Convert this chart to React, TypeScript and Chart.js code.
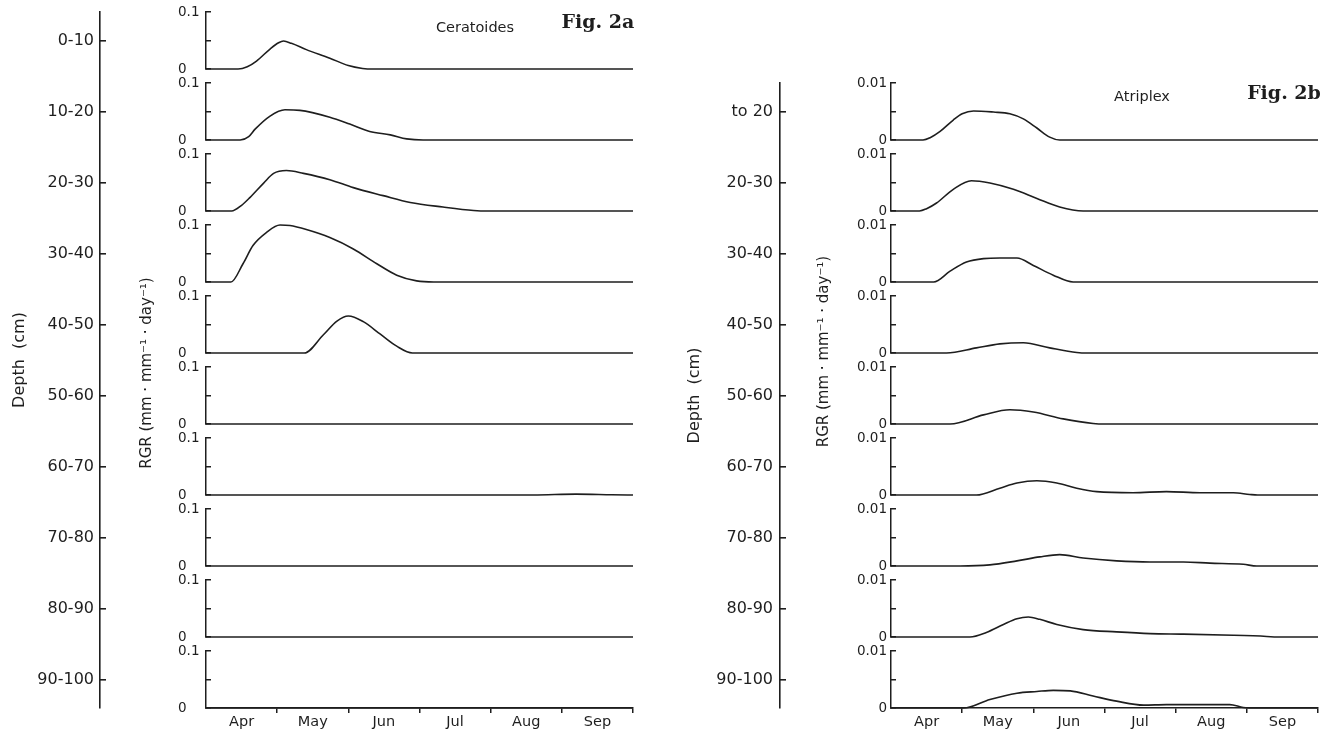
import React, { useEffect, useRef } from 'react';
import { Chart, registerables } from 'chart.js';

Chart.register(...registerables);

// ---------- data ----------
const months = ['Apr', 'May', 'Jun', 'Jul', 'Aug', 'Sep'];
// month boundaries at integers, month label positions at .5
const monthTickValues = [0, 0.5, 1, 1.5, 2, 2.5, 3, 3.5, 4, 4.5, 5, 5.5, 6];

const ceratoidesDepthLabels = ['0-10', '10-20', '20-30', '30-40', '40-50', '50-60', '60-70', '70-80', '80-90', '90-100'];
const ceratoidesDepthMids = [5, 15, 25, 35, 45, 55, 65, 75, 85, 95];
const atriplexDepthLabels = ['to 20', '20-30', '30-40', '40-50', '50-60', '60-70', '70-80', '80-90', '90-100'];
const atriplexDepthMids = [15, 25, 35, 45, 55, 65, 75, 85, 95];

const ceratoidesTickValues = [0, 0.05, 0.1];
const ceratoidesTickLabels = ['0', '', '0.1'];
const atriplexTickValues = [0, 0.005, 0.01];
const atriplexTickLabels = ['0', '', '0.01'];

// [month (0 = 1 Apr), RGR]
const cer0_10 = [[0, 0], [0.45, 0], [0.58, 0.004], [0.71, 0.014], [0.9, 0.035], [1.02, 0.046], [1.09, 0.049], [1.2, 0.045], [1.41, 0.034], [1.74, 0.019], [2.0, 0.006], [2.2, 0.001], [2.35, 0], [6, 0]];
const cer10_20 = [[0, 0], [0.48, 0], [0.6, 0.006], [0.69, 0.019], [0.9, 0.042], [1.11, 0.053], [1.32, 0.052], [1.74, 0.04], [2.02, 0.028], [2.3, 0.015], [2.59, 0.009], [2.82, 0.002], [3.05, 0], [6, 0]];
const cer20_30 = [[0, 0], [0.36, 0], [0.5, 0.01], [0.62, 0.024], [0.81, 0.049], [0.95, 0.066], [1.13, 0.071], [1.37, 0.066], [1.74, 0.055], [2.07, 0.041], [2.49, 0.027], [2.87, 0.015], [3.33, 0.007], [3.76, 0.001], [3.95, 0], [6, 0]];
const cer30_40 = [[0, 0], [0.35, 0], [0.52, 0.032], [0.66, 0.064], [0.85, 0.087], [1.04, 0.1], [1.18, 0.099], [1.41, 0.092], [1.74, 0.078], [2.07, 0.058], [2.4, 0.032], [2.68, 0.012], [2.96, 0.002], [3.2, 0], [6, 0]];
const cer40_50 = [[0, 0], [1.38, 0], [1.65, 0.032], [1.84, 0.056], [2.0, 0.065], [2.21, 0.055], [2.45, 0.033], [2.68, 0.012], [2.9, 0], [6, 0]];
const cer50_60 = [[0, 0], [6, 0]];
const cer60_70 = [[0, 0], [4.6, 0], [5.2, 0.0015], [5.7, 0.0005], [6, 0]];
const cer70_80 = [[0, 0], [6, 0]];
const cer80_90 = [[0, 0], [6, 0]];
const cer90_100 = [[0, 0], [6, 0]];

const atr0_20 = [[0, 0], [0.45, 0], [0.55, 0.0004], [0.69, 0.0015], [0.875, 0.0035], [1.0, 0.0046], [1.16, 0.0051], [1.44, 0.0049], [1.67, 0.0046], [1.86, 0.0037], [2.05, 0.0021], [2.23, 0.0005], [2.37, 0], [6, 0]];
const atr20_30 = [[0, 0], [0.4, 0], [0.5, 0.0004], [0.64, 0.0014], [0.875, 0.0038], [1.13, 0.0053], [1.39, 0.0049], [1.72, 0.0038], [2.05, 0.0022], [2.37, 0.0007], [2.7, 0], [6, 0]];
const atr30_40 = [[0, 0], [0.6, 0], [0.83, 0.0019], [1.06, 0.0035], [1.3, 0.0041], [1.53, 0.0042], [1.77, 0.0042], [2.0, 0.0029], [2.28, 0.0012], [2.56, 0], [6, 0]];
const atr40_50 = [[0, 0], [0.78, 0], [1.2, 0.0009], [1.53, 0.0016], [1.86, 0.0018], [2.23, 0.0009], [2.61, 0.0001], [2.75, 0], [6, 0]];
const atr50_60 = [[0, 0], [0.83, 0], [1.3, 0.0016], [1.67, 0.0025], [2.0, 0.0021], [2.42, 0.0009], [2.84, 0.0001], [3.0, 0], [6, 0]];
const atr60_70 = [[0, 0], [1.2, 0], [1.53, 0.0012], [1.77, 0.0021], [2.05, 0.0025], [2.33, 0.0021], [2.61, 0.0012], [2.89, 0.0006], [3.4, 0.0004], [3.87, 0.0006], [4.34, 0.0004], [4.81, 0.0004], [5.04, 0.0001], [5.15, 0], [6, 0]];
const atr70_80 = [[0, 0], [0.97, 0], [1.39, 0.0002], [1.77, 0.0009], [2.09, 0.0016], [2.37, 0.002], [2.7, 0.0014], [3.17, 0.0009], [3.64, 0.0007], [4.11, 0.0007], [4.48, 0.0005], [4.95, 0.0003], [5.14, 0], [6, 0]];
const atr80_90 = [[0, 0], [1.11, 0], [1.34, 0.0008], [1.58, 0.0022], [1.77, 0.0032], [1.93, 0.0035], [2.09, 0.0031], [2.33, 0.0022], [2.7, 0.0013], [3.17, 0.0009], [3.64, 0.0006], [4.11, 0.0005], [4.81, 0.0003], [5.28, 0.0001], [5.42, 0], [6, 0]];
const atr90_100 = [[0, 0], [1.02, 0], [1.39, 0.0015], [1.77, 0.0026], [2.05, 0.0029], [2.28, 0.0031], [2.52, 0.003], [2.84, 0.0021], [3.17, 0.0012], [3.55, 0.0005], [3.87, 0.0006], [4.34, 0.0006], [4.76, 0.0006], [4.95, 0.0001], [5.14, 0], [6, 0]];

const ceratoidesSeries = [cer0_10, cer10_20, cer20_30, cer30_40, cer40_50, cer50_60, cer60_70, cer70_80, cer80_90, cer90_100];
const atriplexSeries = [atr0_20, atr20_30, atr30_40, atr40_50, atr50_60, atr60_70, atr70_80, atr80_90, atr90_100];

// ---------- styling ----------
const INK = '#1e1e1e';
const FAM = 'DejaVu Sans';
const RGR_TEXT = 'RGR (mm \u00b7 mm\u207b\u00b9 \u00b7 day\u207b\u00b9)';

const fixW = (w: number) => (sc: any) => {
  sc.width = w;
  sc.paddingTop = 0;
  sc.paddingBottom = 0;
  sc.paddingLeft = 0;
  sc.paddingRight = 0;
};

function buildConfig(s: any) {
  const scales: any = {};
  const hidden = () => ({ ticks: { display: false }, grid: { display: false }, border: { display: false } });

  scales.depth = {
    type: 'linear', axis: 'y', position: 'left', weight: 1000, reverse: true,
    min: s.depthMin, max: s.depthMax,
    afterBuildTicks: (sc: any) => { sc.ticks = s.depthMids.map((v: number) => ({ value: v })); },
    afterFit: fixW(s.depthWidth),
    ticks: {
      autoSkip: false, padding: s.depthLabelPad, color: INK,
      font: { family: FAM, size: 16 },
      callback: (_v: any, i: number) => s.depthLabels[i],
    },
    grid: { drawOnChartArea: false, drawTicks: true, tickLength: -6, lineWidth: 1.6, color: INK },
    border: { display: true, color: INK, width: 1.6 },
    title: {
      display: true, text: 'Depth  (cm)', color: INK,
      font: { family: FAM, size: 16 }, padding: { top: s.depthTitlePad, bottom: 0 },
    },
  };

  const titleAxis: any = {
    type: 'linear', axis: 'y', position: 'left', stack: 'rgr', stackWeight: s.titleSpan,
    ...hidden(), afterFit: fixW(s.titleWidth),
    title: {
      display: true, text: RGR_TEXT, color: INK,
      font: { family: FAM, size: 15 }, padding: { top: s.rgrTitlePad, bottom: 0 },
    },
  };
  const fillAxis: any = {
    type: 'linear', axis: 'y', position: 'left', stack: 'rgr', stackWeight: s.fillSpan,
    ...hidden(), afterFit: fixW(s.titleWidth),
  };
  if (s.titleOnTop) { titleAxis.weight = 901; fillAxis.weight = 900; }
  else { fillAxis.weight = 901; titleAxis.weight = 900; }
  scales.rgrTitle = titleAxis;
  scales.rgrFill = fillAxis;

  let w = 500;
  s.series.forEach((_p: any, i: number) => {
    if (i > 0) {
      scales['gap' + i] = {
        type: 'linear', axis: 'y', position: 'left', stack: 'panels', stackWeight: 14, weight: w--,
        ...hidden(), afterFit: fixW(s.panelWidth),
      };
    }
    scales['p' + i] = {
      type: 'linear', axis: 'y', position: 'left', stack: 'panels', stackWeight: 57, weight: w--,
      min: 0, max: s.yMax,
      afterBuildTicks: (sc: any) => { sc.ticks = s.tickValues.map((v: number) => ({ value: v })); },
      afterFit: fixW(s.panelWidth),
      ticks: {
        autoSkip: false, padding: s.labelPad, crossAlign: s.crossAlign, color: INK,
        font: { family: FAM, size: 13.5 },
        callback: (_v: any, idx: number) => s.tickLabels[idx],
      },
      grid: { drawOnChartArea: false, drawTicks: true, tickLength: -5, lineWidth: 1.5, color: INK },
      border: { display: true, color: INK, width: 1.5 },
    };
  });

  scales.x = {
    type: 'linear', axis: 'x', position: 'bottom', min: 0, max: 6,
    afterBuildTicks: (sc: any) => { sc.ticks = monthTickValues.map((v) => ({ value: v })); },
    afterFit: (sc: any) => { sc.height = 25; sc.paddingLeft = 0; sc.paddingRight = 0; },
    ticks: {
      autoSkip: false, maxRotation: 0, minRotation: 0, padding: 1, color: INK,
      font: { family: FAM, size: 14.5 },
      callback: (v: number) => (Number.isInteger(v) ? '' : months[Math.floor(v)]),
    },
    grid: {
      drawOnChartArea: false, drawTicks: true, tickLength: 5, lineWidth: 1.5,
      color: (c: any) => (c.tick && c.tick.value > 0 && Number.isInteger(c.tick.value) ? INK : 'rgba(0,0,0,0)'),
    },
    border: { display: true, color: INK, width: 1.5 },
  };

  const datasets = s.series.map((pts: number[][], i: number) => ({
    data: pts.map(([x, y]) => ({ x, y })),
    xAxisID: 'x',
    yAxisID: 'p' + i,
    borderColor: INK,
    borderWidth: 1.6,
    pointRadius: 0,
    fill: false,
    cubicInterpolationMode: 'monotone',
    clip: false,
  }));

  return {
    type: 'line',
    data: { datasets },
    options: {
      responsive: false,
      animation: false,
      events: [],
      layout: { padding: { left: 0, right: s.padRight, top: s.padTop, bottom: 0 } },
      plugins: { legend: { display: false }, tooltip: { enabled: false }, title: { display: false } },
      elements: { point: { radius: 0 } },
      scales,
    },
  };
}

const ceratoidesSpec = {
  series: ceratoidesSeries, yMax: 0.1, tickValues: ceratoidesTickValues, tickLabels: ceratoidesTickLabels,
  depthLabels: ceratoidesDepthLabels, depthMids: ceratoidesDepthMids, depthMin: 1, depthMax: 99,
  depthWidth: 100, titleWidth: 78, panelWidth: 28,
  depthLabelPad: 12, depthTitlePad: 10, rgrTitlePad: 38, labelPad: 9, crossAlign: 'far',
  padTop: 12, padRight: 17, titleSpan: 670, fillSpan: 26, titleOnTop: false,
};

const atriplexSpec = {
  series: atriplexSeries, yMax: 0.01, tickValues: atriplexTickValues, tickLabels: atriplexTickLabels,
  depthLabels: atriplexDepthLabels, depthMids: atriplexDepthMids, depthMin: 11, depthMax: 99,
  depthWidth: 130, titleWidth: 68, panelWidth: 43,
  depthLabelPad: 13, depthTitlePad: 35, rgrTitlePad: 35, labelPad: 9, crossAlign: 'near',
  padTop: 83, padRight: 12, titleSpan: 537, fillSpan: 88, titleOnTop: true,
};

function FigureChart({ spec, left, width }: { spec: any; left: number; width: number }) {
  const ref = useRef<HTMLCanvasElement | null>(null);
  useEffect(() => {
    if (!ref.current) return;
    const chart = new Chart(ref.current, buildConfig(spec) as any);
    return () => chart.destroy();
  }, [spec]);
  return (
    <canvas
      ref={ref}
      width={width}
      height={733}
      style={{ position: 'absolute', left, top: 0, width, height: 733 }}
    />
  );
}

const label = (x: number, y: number, text: string, style: any) => (
  <div
    style={{
      position: 'absolute', left: x, top: y, transform: 'translate(-50%, -50%)',
      whiteSpace: 'nowrap', color: INK, lineHeight: 1, ...style,
    }}
  >
    {text}
  </div>
);

export default function App() {
  return (
    <div style={{ position: 'absolute', left: 0, top: 0, width: 1330, height: 733, background: '#fff', overflow: 'hidden' }}>
      <FigureChart spec={ceratoidesSpec} left={0} width={650} />
      <FigureChart spec={atriplexSpec} left={650} width={680} />
      {label(475, 27, 'Ceratoides', { fontFamily: FAM, fontSize: 14.5 })}
      {label(598, 21, 'Fig. 2a', { fontFamily: 'DejaVu Serif', fontWeight: 'bold', fontSize: 19 })}
      {label(1142, 96, 'Atriplex', { fontFamily: FAM, fontSize: 14.5 })}
      {label(1284, 92, 'Fig. 2b', { fontFamily: 'DejaVu Serif', fontWeight: 'bold', fontSize: 19 })}
    </div>
  );
}
